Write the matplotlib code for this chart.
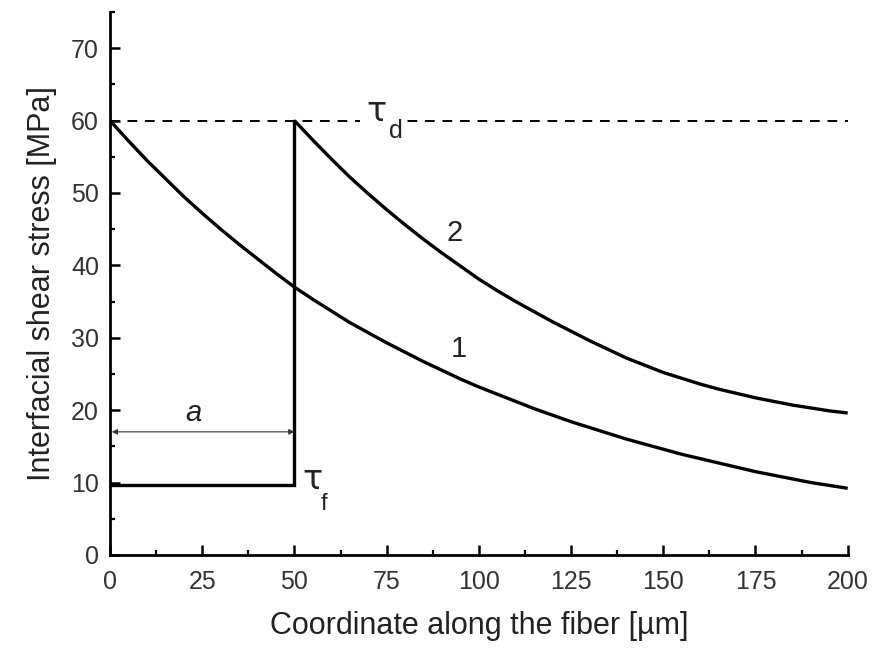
import numpy as np
import matplotlib
matplotlib.use("Agg")
import matplotlib.pyplot as plt
from matplotlib.ticker import MultipleLocator

plt.rcParams['font.family'] = ['Liberation Sans', 'DejaVu Sans']

# curve 1: stress along the fiber before debonding
x1 = list(range(0, 201, 5))
tau1 = [60.0, 57.2, 54.5, 52.0, 49.5, 47.2, 45.0, 42.9, 40.9, 38.9,
        37.0, 35.3, 33.7, 32.1, 30.7, 29.3, 28.0, 26.7, 25.5, 24.3,
        23.2, 22.2, 21.2, 20.2, 19.3, 18.4, 17.6, 16.8, 16.0, 15.3,
        14.6, 13.9, 13.3, 12.7, 12.1, 11.5, 11.0, 10.5, 10.0, 9.6, 9.2]

# curve 2: stress after debonding of length a
x2 = list(range(50, 201, 5))
tau2 = [60.0, 57.3, 54.7, 52.2, 49.9, 47.7, 45.6, 43.6, 41.7, 39.9,
        38.1, 36.5, 35.0, 33.6, 32.2, 30.9, 29.6, 28.4, 27.2, 26.2,
        25.2, 24.4, 23.6, 22.9, 22.3, 21.7, 21.2, 20.7, 20.3, 19.9, 19.6]

# friction part over the debonded length
step_x = [0, 50, 50]
step_y = [9.7, 9.7, 60]

tau_d = 60
a_len = 50
a_y = 17

fig = plt.figure(figsize=(8.73, 6.49), dpi=100)
ax = fig.add_axes([0.126, 0.145, 0.845, 0.8365])

ax.plot(x1, tau1, color='black', lw=2.4, solid_capstyle='butt')
ax.plot(x2, tau2, color='black', lw=2.4, solid_capstyle='butt')
ax.plot(step_x, step_y, color='black', lw=2.4, solid_joinstyle='miter')
ax.plot([0, 200], [tau_d, tau_d], color='black', lw=1.4, dashes=(5, 4))

ax.annotate('', xy=(0.5, a_y), xytext=(a_len, a_y),
            arrowprops=dict(arrowstyle='<|-|>', color='#333333', lw=0.8,
                            mutation_scale=8, shrinkA=0, shrinkB=0))
ax.text(22.5, 19.6, 'a', fontsize=21, style='italic', color='#222222',
        ha='center', va='center')

# tau_d label with white backing over the dashed line
ax.text(72.3, 61.2, 'τ', fontsize=24, family='DejaVu Sans', color='#222222',
        ha='center', va='center', zorder=5,
        bbox=dict(facecolor='white', edgecolor='none', pad=5))
ax.text(77.4, 58.6, 'd', fontsize=18, color='#222222', ha='center', va='center',
        zorder=6, bbox=dict(facecolor='white', edgecolor='none', pad=2))
ax.text(55.0, 10.4, 'τ', fontsize=24, family='DejaVu Sans', color='#222222',
        ha='center', va='center')
ax.text(58.0, 7.0, 'f', fontsize=17, color='#222222', ha='center', va='center')

ax.text(93.5, 44.5, '2', fontsize=21, color='#222222', ha='center', va='center')
ax.text(94.6, 28.4, '1', fontsize=21, color='#222222', ha='center', va='center')

ax.set_xlim(0, 200)
ax.set_ylim(0, 75)
ax.xaxis.set_major_locator(MultipleLocator(25))
ax.xaxis.set_minor_locator(MultipleLocator(12.5))
ax.yaxis.set_major_locator(MultipleLocator(10))
ax.yaxis.set_minor_locator(MultipleLocator(5))

for s in ['top', 'right']:
    ax.spines[s].set_visible(False)
for s in ['left', 'bottom']:
    ax.spines[s].set_linewidth(2.0)

ax.tick_params(which='major', direction='in', length=7, width=1.8,
               labelsize=18, labelcolor='#333333')
ax.tick_params(which='minor', direction='in', length=3.5, width=1.6)
ax.tick_params(axis='x', which='major', pad=11)
ax.tick_params(axis='y', which='major', pad=8)

ax.set_xlabel('Coordinate along the fiber [µm]', fontsize=22, color='#222222', labelpad=12)
ax.set_ylabel('Interfacial shear stress [MPa]', fontsize=22, color='#222222', labelpad=10)

fig.savefig('out.png', dpi=100)
